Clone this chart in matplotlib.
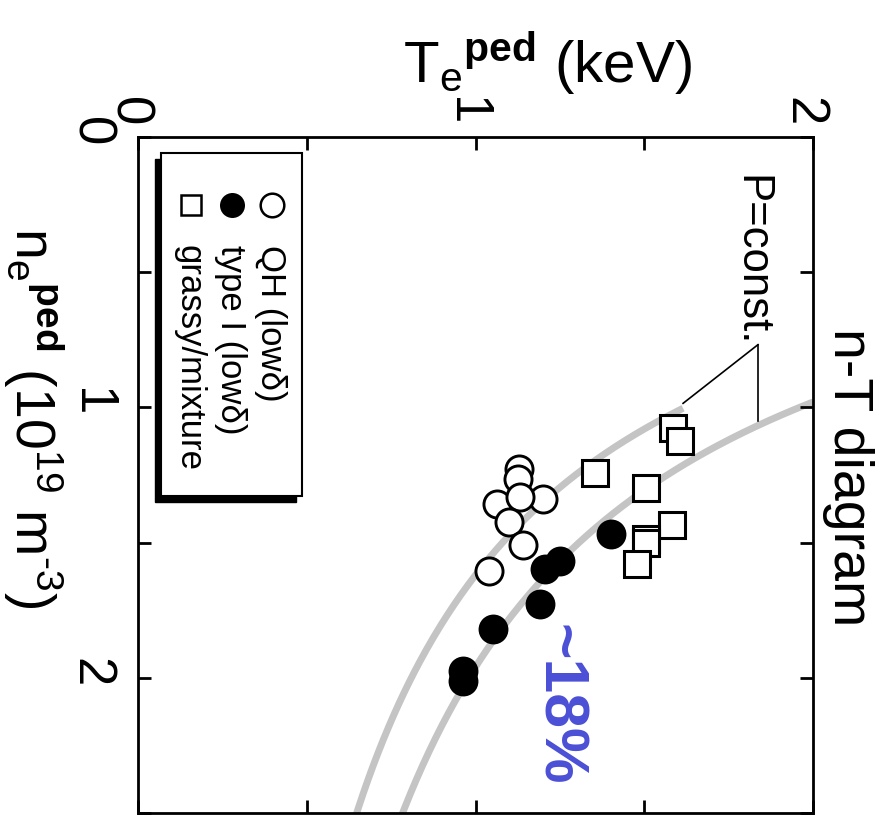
"""n-T diagram of pedestal values (figure drawn rotated 90 deg clockwise)."""

import matplotlib

matplotlib.use("Agg")
import matplotlib.pyplot as plt
import numpy as np
from matplotlib.patches import Rectangle
from matplotlib.transforms import ScaledTranslation

plt.rcParams["font.family"] = ["Liberation Sans", "DejaVu Sans"]
plt.rcParams["mathtext.fontset"] = "custom"
plt.rcParams["mathtext.rm"] = "Liberation Sans"
plt.rcParams["mathtext.bf"] = "Liberation Sans:bold"
plt.rcParams["mathtext.it"] = "Liberation Sans:italic"

# --- data (T_e^ped in keV, n_e^ped in 1e19 m^-3) ---
qh_T = [1.129, 1.126, 1.064, 1.200, 1.132, 1.099, 1.141, 1.040]
qh_n = [1.229, 1.266, 1.358, 1.339, 1.332, 1.424, 1.509, 1.605]
type1_T = [1.401, 1.250, 1.206, 1.191, 1.052, 0.963, 0.963]
type1_n = [1.469, 1.568, 1.598, 1.727, 1.819, 1.974, 2.011]
grassy_T = [1.585, 1.606, 1.354, 1.505, 1.582, 1.505, 1.505, 1.478]
grassy_n = [1.077, 1.125, 1.244, 1.299, 1.435, 1.487, 1.502, 1.579]

# constant-pressure curves n*T = P, drawn over a T range
isobar_P = [1.62, 1.96]
isobar_T_range = [(0.60, 1.615), (0.75, 2.0)]

T_ticks = [0, 0.5, 1, 1.5, 2]
T_ticklabels = ["0", "", "1", "", "2"]
n_ticks = [0, 0.5, 1, 1.5, 2, 2.5]
n_ticklabels = ["0", "", "1", "", "2", ""]

legend_labels = ["QH (low\u03b4)", "type I (low\u03b4)", "grassy/mixture"]

W, H = 888, 823
fig = plt.figure(figsize=(W / 100, H / 100), dpi=100)
ax = fig.add_axes([138 / W, 1 - 813 / H, 675 / W, 676 / H])
ax.set_xlim(0, 2)
ax.set_ylim(2.5, 0)

gray = "#c4c4c4"
for P, (t0, t1) in zip(isobar_P, isobar_T_range):
    T = np.linspace(t0, t1, 200)
    ax.plot(T, P / T, color=gray, lw=5, solid_capstyle="butt", zorder=1)

# P=const. pointer lines
apex = (1.837, 0.768)
ax.plot([apex[0], 1.615], [apex[1], 0.985], color="black", lw=1.2, zorder=2)
ax.plot([apex[0], 1.837], [apex[1], 1.05], color="black", lw=1.2, zorder=2)
ax.text(1.781, 0.14, "P=const.", rotation=-90, rotation_mode="anchor",
        ha="left", va="baseline", fontsize=31.5)

ax.plot(grassy_T, grassy_n, "s", ms=18.5, mfc="white", mec="black", mew=2.2,
        ls="none", zorder=3)
ax.plot(qh_T, qh_n, "o", ms=19.5, mfc="white", mec="black", mew=2.1,
        ls="none", zorder=4)
ax.plot(type1_T, type1_n, "o", ms=21.5, mfc="black", mec="black", mew=0,
        ls="none", zorder=5)

ax.text(1.197, 1.801, "~18%", rotation=-90, rotation_mode="anchor",
        ha="left", va="baseline", fontsize=45, fontweight="bold",
        color="#4a4fd6")

# legend (drawn by hand so its text can follow the rotation)
bx0, bx1, by0, by1 = 0.0341, 0.243, 0.4689, 0.9763
shift = 6 / 675
ax.add_patch(Rectangle((bx0 - shift, by0 - shift), bx1 - bx0, by1 - by0,
                       transform=ax.transAxes, facecolor="black",
                       edgecolor="black", zorder=6))
ax.add_patch(Rectangle((bx0, by0), bx1 - bx0, by1 - by0,
                       transform=ax.transAxes, facecolor="white",
                       edgecolor="black", lw=1.5, zorder=7))
key_x = [0.1985, 0.1393, 0.0785]
key_style = [dict(marker="o", ms=17, mfc="white", mec="black", mew=1.8),
             dict(marker="o", ms=18, mfc="black", mec="black", mew=0),
             dict(marker="s", ms=15, mfc="white", mec="black", mew=1.8)]
for kx, st, lab in zip(key_x, key_style, legend_labels):
    ax.plot([kx], [0.8994], transform=ax.transAxes, ls="none", zorder=8, **st)
    ax.text(kx - 0.017, 0.8402, lab, transform=ax.transAxes, rotation=-90,
            rotation_mode="anchor", ha="left", va="baseline", fontsize=25,
            zorder=8)

# axes styling
for sp in ax.spines.values():
    sp.set_linewidth(2.0)
ax.set_xticks(T_ticks)
ax.set_xticklabels(T_ticklabels)
ax.set_yticks(n_ticks)
ax.set_yticklabels(n_ticklabels)
ax.tick_params(direction="in", length=9.5, width=2, top=True, right=True,
               labeltop=True, labelbottom=False, labelsize=38)
ax.tick_params(axis="x", labelrotation=-90, pad=8)
ax.tick_params(axis="y", labelrotation=-90, pad=16)
# rotated digits sit off-centre; nudge the top labels back over their ticks
nudge = ScaledTranslation(-10 / 100, 0, fig.dpi_scale_trans)
for tick in ax.xaxis.get_major_ticks():
    tick.label2.set_transform(tick.label2.get_transform() + nudge)

fig.text(548 / W, 1 - 82 / H, r"T$_\mathrm{e}{}^\mathbf{ped}$ (keV)",
         ha="center", va="baseline", fontsize=42)
n_label = (r"n$_\mathrm{e}{}^\mathbf{ped}$ (10$^\mathrm{19}$ m$^\mathrm{"
           + "\u2010" + r"3}$)")
fig.text(15 / W, 1 - 227 / H, n_label, rotation=-90, rotation_mode="anchor",
         ha="left", va="baseline", fontsize=40)
fig.text(834 / W, 1 - 328 / H, "n-T diagram", rotation=-90,
         rotation_mode="anchor", ha="left", va="baseline", fontsize=40)

fig.savefig("out.png", dpi=100)
